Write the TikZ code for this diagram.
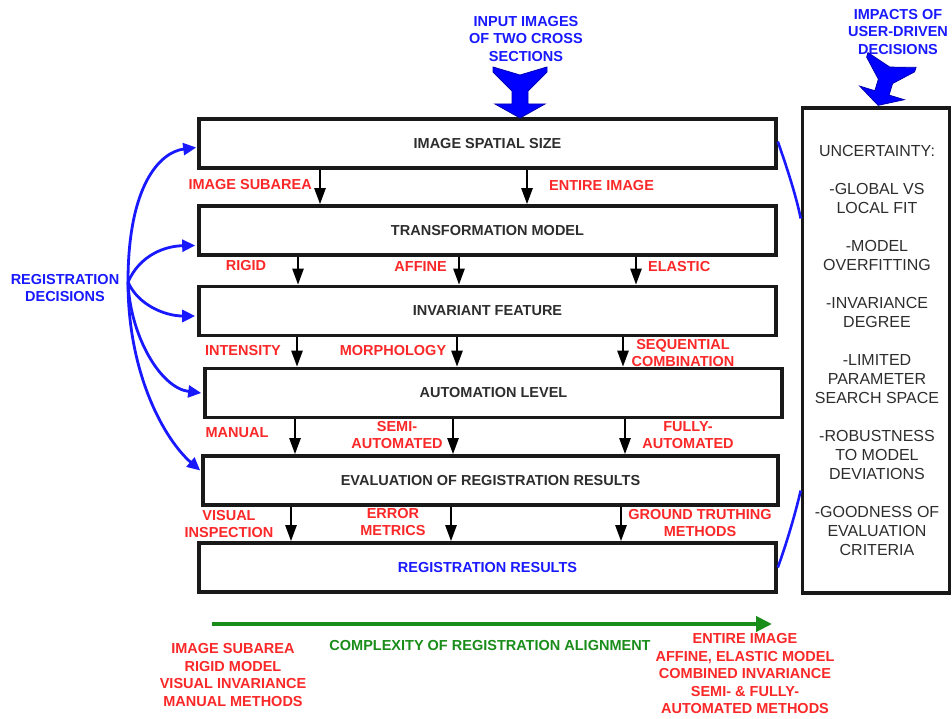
\documentclass[tikz,border=0pt]{standalone}
\usepackage{fontspec}
\setmainfont{Liberation Sans}
\usetikzlibrary{arrows.meta,calc}
\definecolor{tblue}{RGB}{25,25,255}
\definecolor{tred}{RGB}{250,40,40}
\definecolor{tgreen}{RGB}{25,140,25}
\definecolor{tgray}{RGB}{45,45,45}
\newcommand\labfont{\bfseries\fontsize{14.5}{17.5}\selectfont}
\newcommand\rbfont{\fontsize{16}{19}\selectfont}
\begin{document}
\begin{tikzpicture}[x=1pt,y=-1pt,
  box/.style={draw=black!90,line width=3.6pt,minimum width=577pt,minimum height=49pt,inner sep=0pt,text=tgray,font=\labfont},
  lab/.style={text=tred,font=\labfont,inner sep=0pt,align=center},
  blab/.style={text=tblue,font=\labfont,inner sep=0pt,align=center},
  glab/.style={text=tgreen,font=\labfont,inner sep=0pt,align=center},
  arr/.style={line width=2.4pt,black,-{Triangle[length=16pt,width=11pt]}},
  barr/.style={line width=2.8pt,tblue,-{Triangle[length=13pt,width=12pt]}},
  bline/.style={line width=2.6pt,tblue},
  garr/.style={line width=4pt,tgreen,-{Triangle[length=16pt,width=15pt]}},
  bigarr/.pic={\filldraw[fill=blue,draw=blue!70!black,line width=0.8pt] (-27,0) -- (0,8) -- (27,0) -- (27,5) -- (8,24) -- (8,37) -- (25,37) -- (0,51) -- (-25,37) -- (-8,37) -- (-8,24) -- (-27,5) -- cycle;}
]
\useasboundingbox (0,0) rectangle (952,719);

% boxes
\node[box] (b1) at (487.5,143.5) {IMAGE SPATIAL SIZE};
\node[box] (b2) at (487.5,230.5) {TRANSFORMATION MODEL};
\node[box] (b3) at (487.5,311) {INVARIANT FEATURE};
\node[box] (b4) at (493.5,393) {AUTOMATION LEVEL};
\node[box,minimum width=575pt] (b5) at (490.5,480.5) {EVALUATION OF REGISTRATION RESULTS};
\node[box,text=tblue] (b6) at (487.5,567.5) {REGISTRATION RESULTS};
\node[draw=black!90,line width=3.6pt,minimum width=147pt,minimum height=485pt,inner sep=0pt] (rb) at (876,350.5) {};
\node[text=tgray,font=\rbfont,align=center,inner sep=0pt] (rbt) at (877,350) {UNCERTAINTY:\\[19pt]-GLOBAL VS\\LOCAL FIT\\[19pt]-MODEL\\OVERFITTING\\[19pt]-INVARIANCE\\DEGREE\\[19pt]-LIMITED\\PARAMETER\\SEARCH SPACE\\[19pt]-ROBUSTNESS\\TO MODEL\\DEVIATIONS\\[19pt]-GOODNESS OF\\EVALUATION\\CRITERIA};

% arrow x positions
\coordinate (x11) at (320,0); \coordinate (x12) at (527,0);
\coordinate (x21) at (298,0); \coordinate (x22) at (459,0); \coordinate (x23) at (636,0);
\coordinate (x31) at (297,0); \coordinate (x32) at (457,0); \coordinate (x33) at (623,0);
\coordinate (x41) at (295,0); \coordinate (x42) at (453,0); \coordinate (x43) at (625,0);
\coordinate (x51) at (291,0); \coordinate (x52) at (451,0); \coordinate (x53) at (621,0);

\foreach \i in {11,12} \draw[arr] (b1.south -| x\i) -- (b2.north -| x\i);
\foreach \i in {21,22,23} \draw[arr] (b2.south -| x\i) -- (b3.north -| x\i);
\foreach \i in {31,32,33} \draw[arr] (b3.south -| x\i) -- (b4.north -| x\i);
\foreach \i in {41,42,43} \draw[arr] (b4.south -| x\i) -- (b5.north -| x\i);
\foreach \i in {51,52,53} \draw[arr] (b5.south -| x\i) -- (b6.north -| x\i);

% red labels
\node[lab,anchor=east] (l11) at (312,185) {IMAGE SUBAREA};
\node[lab,anchor=west] (l12) at (549,186) {ENTIRE IMAGE};
\node[lab] (l21) at (246,266) {RIGID};
\node[lab,anchor=east] (l22) at (447,267) {AFFINE};
\node[lab,anchor=west] (l23) at (648,267) {ELASTIC};
\node[lab] (l31) at (243,351) {INTENSITY};
\node[lab] (l32) at (393,351) {MORPHOLOGY};
\node[lab] (l33) at (683,353) {SEQUENTIAL\\COMBINATION};
\node[lab] (l41) at (237,433) {MANUAL};
\node[lab] (l42) at (397,435) {SEMI-\\AUTOMATED};
\node[lab] (l43) at (688,435) {FULLY-\\AUTOMATED};
\node[lab] (l51) at (229,524) {VISUAL\\INSPECTION};
\node[lab] (l52) at (393,522) {ERROR\\METRICS};
\node[lab] (l53) at (700,523) {GROUND TRUTHING\\METHODS};

% top
\node[blab] (inp) at (526,39) {INPUT IMAGES\\OF TWO CROSS\\SECTIONS};
\pic at (520,67) {bigarr};
\node[blab] (imp) at (898,32) {IMPACTS OF\\USER-DRIVEN\\DECISIONS};
\pic[rotate=-17,scale=0.93] at (892,60) {bigarr};

% left decisions
\node[blab] (rd) at (65,288) {REGISTRATION\\DECISIONS};
\coordinate (o) at (128,282);
\draw[barr] (o) .. controls (128,185) and (160,152) .. ($(b1.west)+(-1,4)$);
\draw[barr] (o) .. controls (140,255) and (165,246) .. ($(b2.west)+(-2,15)$);
\draw[barr] (o) .. controls (138,305) and (165,316) .. ($(b3.west)+(-2,5)$);
\draw[barr] (o) .. controls (130,335) and (160,388) .. ($(b4.west)+(-2,0)$);
\draw[barr] (o) .. controls (128,375) and (165,440) .. ($(b5.west)+(-1,-10)$);

% right blue lines
\draw[bline] ($(b1.east)+(0,-2)$) .. controls (786,165) and (796,195) .. ($(rb.west)+(0,-132)$);
\draw[bline] ($(b6.east)+(0,0)$) .. controls (786,545) and (795,515) .. ($(rb.west)+(0,140)$);

% complexity arrow
\coordinate (gs) at (212,624);
\coordinate (ge) at (772,624);
\draw[garr] (gs) -- (ge);
\node[glab] (cx) at (490,646) {COMPLEXITY OF REGISTRATION ALIGNMENT};
\node[lab] (lowl) at (233,675) {IMAGE SUBAREA\\RIGID MODEL\\VISUAL INVARIANCE\\MANUAL METHODS};
\node[lab] (highl) at (745,674) {ENTIRE IMAGE\\AFFINE, ELASTIC MODEL\\COMBINED INVARIANCE\\SEMI- \& FULLY-\\AUTOMATED METHODS};
\end{tikzpicture}
\end{document}
